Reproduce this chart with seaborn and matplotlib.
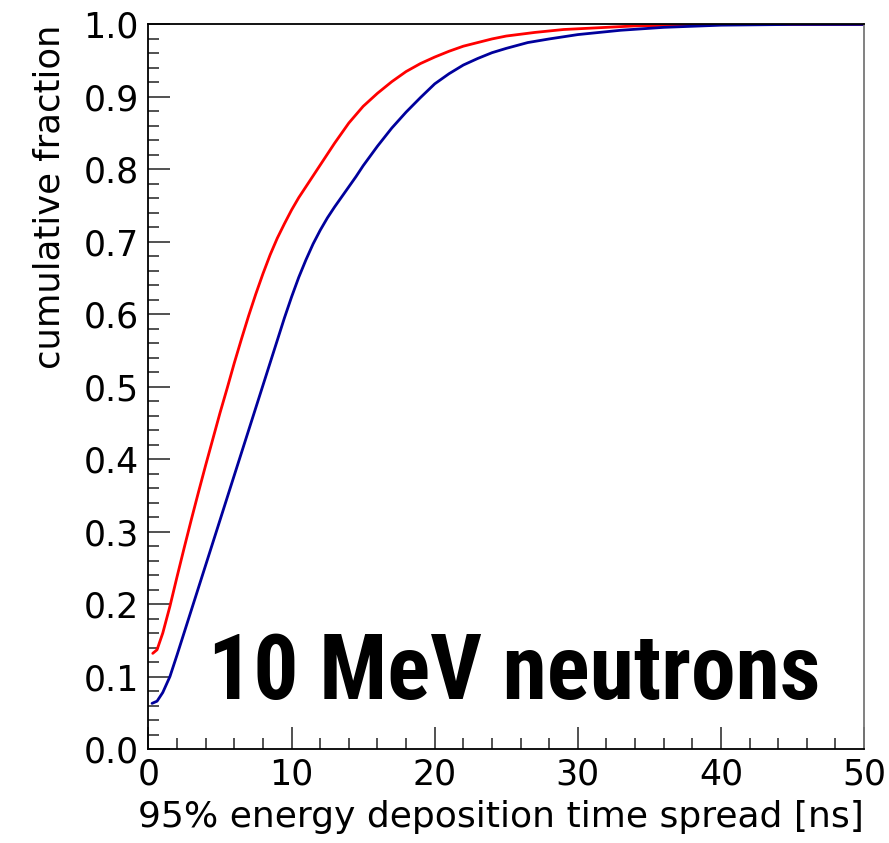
import matplotlib
matplotlib.use("Agg")
import matplotlib.pyplot as plt
from matplotlib import font_manager as fm
from matplotlib.ticker import MultipleLocator
import pandas as pd
import seaborn as sns

# Cumulative fraction of events vs. 95% energy deposition time spread [ns]
red_t = [0.3, 0.6, 1.0, 1.5, 2.0, 2.5, 3.0, 3.5, 4.0, 4.5, 5.0, 5.5, 6.0,
         6.5, 7.0, 7.5, 8.0, 8.5, 9.0, 9.5, 10.0, 10.5, 11.0, 11.5, 12.0,
         12.5, 13.0, 14.0, 15.0, 16.0, 17.0, 18.0, 19.0, 20.0, 21.0, 22.0,
         23.0, 24.0, 25.0, 27.0, 29.0, 31.0, 34.0, 37.0, 40.0, 50.0]
red_frac = [0.132, 0.137, 0.160, 0.197, 0.238, 0.278, 0.317, 0.355, 0.392,
            0.428, 0.464, 0.498, 0.533, 0.566, 0.598, 0.628, 0.656, 0.682,
            0.705, 0.725, 0.744, 0.761, 0.776, 0.791, 0.806, 0.821, 0.836,
            0.864, 0.887, 0.905, 0.921, 0.935, 0.946, 0.955, 0.963, 0.970,
            0.975, 0.980, 0.984, 0.989, 0.993, 0.995, 0.998, 0.999, 1.000,
            1.000]

blue_t = [0.25, 0.6, 1.0, 1.5, 2.0, 2.5, 3.0, 3.5, 4.0, 4.5, 5.0, 5.5, 6.0,
          6.5, 7.0, 7.5, 8.0, 8.5, 9.0, 9.5, 10.0, 10.5, 11.0, 11.5, 12.0,
          12.5, 13.0, 13.5, 14.0, 14.5, 15.0, 16.0, 17.0, 18.0, 19.0, 20.0,
          21.0, 22.0, 23.0, 24.0, 25.0, 26.5, 28.0, 30.0, 33.0, 36.0, 40.0,
          45.0, 50.0]
blue_frac = [0.063, 0.066, 0.078, 0.100, 0.130, 0.161, 0.192, 0.223, 0.254,
             0.285, 0.316, 0.347, 0.378, 0.409, 0.440, 0.471, 0.502, 0.533,
             0.564, 0.595, 0.624, 0.651, 0.675, 0.697, 0.716, 0.733, 0.748,
             0.762, 0.776, 0.790, 0.805, 0.832, 0.857, 0.879, 0.899, 0.918,
             0.932, 0.944, 0.953, 0.961, 0.967, 0.975, 0.980, 0.986, 0.992,
             0.996, 0.999, 1.000, 1.000]

series_names = ["red", "blue"]
series_colors = {"red": "#ff0000", "blue": "#00009c"}

title_text = "10 MeV neutrons"

df = pd.concat([
    pd.DataFrame({"t": red_t, "frac": red_frac, "series": "red"}),
    pd.DataFrame({"t": blue_t, "frac": blue_frac, "series": "blue"}),
], ignore_index=True)

sns.set_theme(style="ticks")
plt.rcParams["font.family"] = ["DejaVu Sans"]


def _num(value, table):
    if isinstance(value, str):
        return table.get(value, 500)
    return value


def condensed_bold_font():
    """Return FontProperties for an installed condensed bold sans face."""
    preferred = ["Liberation Sans Narrow", "Noto Sans", "Open Sans",
                 "Roboto Condensed", "Roboto", "DejaVu Sans"]
    found = []
    for f in fm.fontManager.ttflist:
        weight = _num(f.weight, fm.weight_dict)
        stretch = _num(f.stretch, fm.stretch_dict)
        if 600 <= weight <= 800 and stretch < 500 and f.style == "normal":
            rank = preferred.index(f.name) if f.name in preferred else len(preferred)
            found.append((rank, abs(stretch - 300), f.fname))
    if found:
        found.sort()
        return fm.FontProperties(fname=found[0][2])
    return fm.FontProperties(family="DejaVu Sans", weight="bold")


fig = plt.figure(figsize=(8.89, 8.43), dpi=100)
ax = fig.add_axes([0.167, 0.1115, 0.805, 0.8595])

sns.lineplot(data=df, x="t", y="frac", hue="series", hue_order=series_names,
             palette=series_colors, linewidth=2.0, legend=False, sort=True,
             estimator=None, ax=ax)

ax.set_xlim(0, 50)
ax.set_ylim(0, 1.0)
ax.xaxis.set_major_locator(MultipleLocator(10))
ax.xaxis.set_minor_locator(MultipleLocator(2))
ax.yaxis.set_major_locator(MultipleLocator(0.1))
ax.yaxis.set_minor_locator(MultipleLocator(0.02))
ax.xaxis.set_major_formatter(plt.FuncFormatter(lambda v, p: f"{v:.0f}"))
ax.yaxis.set_major_formatter(plt.FuncFormatter(lambda v, p: f"{v:.1f}"))

ax.tick_params(which="both", direction="in", top=False, right=False,
               width=1.1, color="#222222", labelsize=25, labelcolor="black")
ax.tick_params(which="major", length=16)
ax.tick_params(which="minor", length=8)
ax.tick_params(axis="x", which="major", pad=6)
ax.tick_params(axis="y", which="major", pad=7)

for side in ["left", "bottom", "top", "right"]:
    ax.spines[side].set_visible(True)
    ax.spines[side].set_linewidth(1.3)
    ax.spines[side].set_color("black")
ax.spines["right"].set_color("#777777")

ax.set_xlabel("95% energy deposition time spread [ns]", fontsize=26,
              loc="right", labelpad=6, color="black")
ax.set_ylabel("cumulative fraction", fontsize=25.5, loc="top", labelpad=12,
              color="black")

# Large annotation: fit the condensed bold face into its box
fp = condensed_bold_font()
label = ax.text(4.15, 0.069, title_text, fontproperties=fp, fontsize=78,
                ha="left", va="baseline", color="black")
fig.canvas.draw()
renderer = fig.canvas.get_renderer()
target_w = 613.0
w = label.get_window_extent(renderer).width
if w > target_w:
    label.set_fontsize(78 * target_w / w)

fig.savefig("out.png", dpi=100, facecolor="white")
